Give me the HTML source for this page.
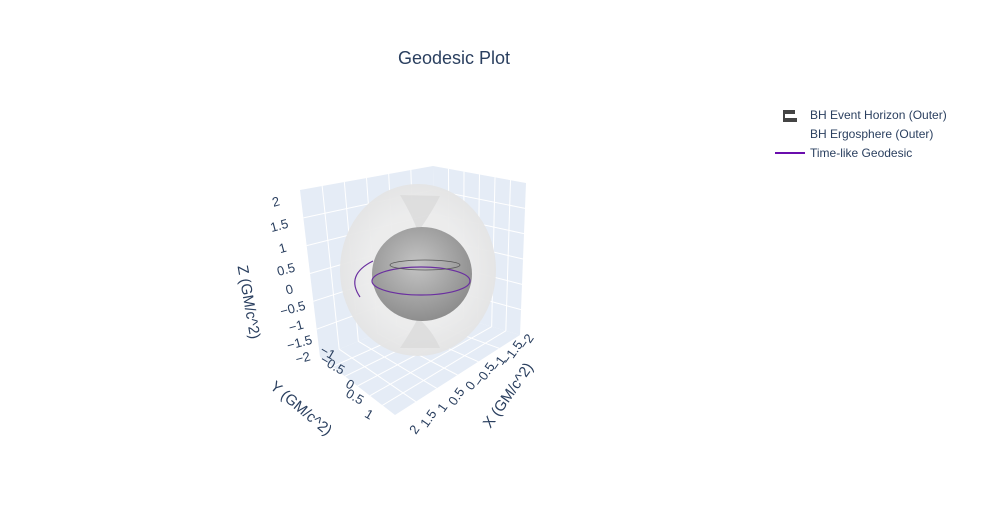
<!DOCTYPE html>
<html><head><meta charset="utf-8"><style>
body{margin:0;background:#fff;font-family:"Liberation Sans",sans-serif;}
svg text{font-family:"Liberation Sans",sans-serif;fill:#2a3f5f;}
</style></head><body>
<svg width="985" height="525" viewBox="0 0 985 525">
<defs>
<radialGradient id="hg" cx="0.45" cy="0.4" r="0.6"><stop offset="0" stop-color="#c4c4c4"/><stop offset="1" stop-color="#8e8e8e"/></radialGradient>
<radialGradient id="eg" cx="0.5" cy="0.5" r="0.55"><stop offset="0.6" stop-color="#ececec"/><stop offset="1" stop-color="#e2e2e2"/></radialGradient>
</defs>
<text x="454" y="64" font-size="18" text-anchor="middle">Geodesic Plot</text>
<g id="scene">
<polygon points="300,190 433,166 435,310 320,357" fill="#e5ecf6"/>
<polygon points="433,166 526,183 520,335 435,310" fill="#e5ecf6"/>
<polygon points="320,357 435,310 520,335 395,415" fill="#e5ecf6"/>
<g id="grid" stroke="#fff" stroke-width="1"></g>
<ellipse cx="418" cy="270" rx="78" ry="86" fill="url(#eg)" opacity="0.95"/>
<path d="M400,195 Q412,215 418,232 Q432,212 440,196" fill="#d8d8d8" opacity="0.7"/>
<path d="M400,348 Q412,330 418,318 Q432,330 440,348" fill="#d8d8d8" opacity="0.7"/>
<ellipse cx="422" cy="274" rx="50" ry="47" fill="url(#hg)"/>
<g id="orbit" fill="none" stroke="#6a2fa0" stroke-width="1.2">
<ellipse cx="421" cy="281" rx="49" ry="14"/>
<ellipse cx="425" cy="265" rx="35" ry="5" stroke="#555" stroke-width="0.8"/>
<path d="M373,261 Q345,275 360,297"/>
</g>
<g id="zticks" font-size="13" text-anchor="middle"></g>
<text transform="translate(244,303) rotate(80)" font-size="15" text-anchor="middle">Z (GM/c^2)</text>
<g id="yticks" font-size="13"></g>
<text transform="translate(298,412) rotate(40)" font-size="15" text-anchor="middle">Y (GM/c^2)</text>
<g id="xticks" font-size="13"></g>
<text transform="translate(512,398) rotate(-55)" font-size="15" text-anchor="middle">X (GM/c^2)</text>
</g>
<g>
<g>
<path d="M783,110 h12 v4 h-10 v4 h12 v4 h-14 z" fill="#444"/>
<text x="810" y="119" font-size="12">BH Event Horizon (Outer)</text></g>
<g>
<text x="810" y="138" font-size="12">BH Ergosphere (Outer)</text></g>
<g>
<line x1="775" y1="153" x2="805" y2="153" stroke="#6a0dad" stroke-width="2"/>
<text x="810" y="157" font-size="12">Time-like Geodesic</text></g>
</g>
</svg>
<script>
const zTicks=["2","1.5","1","0.5","0","−0.5","−1","−1.5","−2"];
const yTicks=["−1","−0.5","0","0.5","1"];
const xTicks=["2","1.5","1","0.5","0","−0.5","−1","−1.5","−2"];
const NS="http://www.w3.org/2000/svg";
const grid=document.getElementById('grid');
function ln(x1,y1,x2,y2){const l=document.createElementNS(NS,'line');l.setAttribute('x1',x1);l.setAttribute('y1',y1);l.setAttribute('x2',x2);l.setAttribute('y2',y2);


grid.appendChild(l);}
const L=[[300,190],[433,166],[435,310],[320,357]],R=[[433,166],[526,183],[520,335],[435,310]],F=[[320,357],[435,310],[520,335],[395,415]];
function lerp(a,b,t){return [a[0]+(b[0]-a[0])*t,a[1]+(b[1]-a[1])*t];}
const N=6;
for(let i=1;i<N;i++){const t=i/N;
 let a=lerp(L[0],L[3],t),b=lerp(L[1],L[2],t);ln(a[0],a[1],b[0],b[1]);
 a=lerp(L[0],L[1],t);b=lerp(L[3],L[2],t);ln(a[0],a[1],b[0],b[1]);
 a=lerp(R[0],R[3],t);b=lerp(R[1],R[2],t);ln(a[0],a[1],b[0],b[1]);
 a=lerp(R[0],R[1],t);b=lerp(R[3],R[2],t);ln(a[0],a[1],b[0],b[1]);
 a=lerp(F[0],F[1],t);b=lerp(F[3],F[2],t);ln(a[0],a[1],b[0],b[1]);
 a=lerp(F[0],F[3],t);b=lerp(F[1],F[2],t);ln(a[0],a[1],b[0],b[1]);
}
function zPos(i,n){const t=i/(n-1);return [277+27*t, 206+156*(t*1.25-0.25*t*t)];}
const zg=document.getElementById('zticks');
zTicks.forEach((s,i)=>{const t=document.createElementNS(NS,'text');const p=zPos(i,zTicks.length);
t.setAttribute('transform',`translate(${p[0]},${p[1]}) rotate(-15)`);t.textContent=s;


zg.appendChild(t);});
const yg=document.getElementById('yticks');
yTicks.forEach((s,i)=>{const t=document.createElementNS(NS,'text');const x=332+i*9.5,y=360+i*15;
t.setAttribute('transform',`translate(${x},${y}) rotate(30)`);t.setAttribute('text-anchor','end');t.textContent=s;


yg.appendChild(t);});
const xg=document.getElementById('xticks');
xTicks.forEach((s,i)=>{const t=document.createElementNS(NS,'text');const x=418+i*14,y=432-i*11;
t.setAttribute('transform',`translate(${x},${y}) rotate(-55)`);t.setAttribute('text-anchor','middle');t.textContent=s;


xg.appendChild(t);});
</script>
</body></html>
